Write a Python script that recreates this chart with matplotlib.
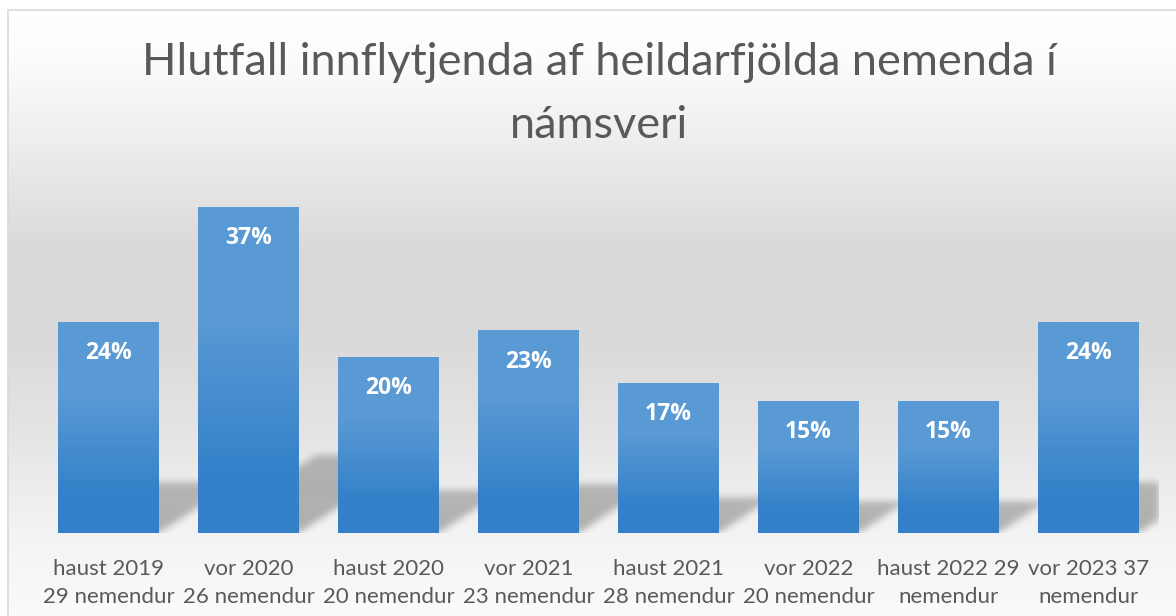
import numpy as np
import matplotlib
matplotlib.use('Agg')
import matplotlib.pyplot as plt
from matplotlib.colors import LinearSegmentedColormap
from matplotlib.patches import Rectangle

# Datos del gráfico
categorias = ['haust 2019\n29 nemendur', 'vor 2020\n26 nemendur', 'haust 2020\n20 nemendur',
              'vor 2021\n23 nemendur', 'haust 2021\n28 nemendur', 'vor 2022\n20 nemendur',
              'haust 2022 29\nnemendur', 'vor 2023 37\nnemendur']
hlutfall = [24, 37, 20, 23, 17, 15, 15, 24]
titill = 'Hlutfall innflytjenda af heildarfjölda nemenda í\nnámsveri'

W, H = 1176, 616
plt.rcParams['font.family'] = ['Lato', 'DejaVu Sans']
fig = plt.figure(figsize=(W / 100, H / 100), dpi=100)
fig.patch.set_facecolor('white')

# Fondo con degradado (estilo Excel)
bg = fig.add_axes([8 / W, 0, 1 - 8 / W, (H - 10) / H], zorder=0)
bg_stops = [(0.0, '#ffffff'), (0.08, '#fcfcfc'), (0.23, '#ececec'), (0.40, '#d9d9d9'),
            (0.53, '#d9d9d9'), (0.68, '#e3e3e3'), (0.86, '#f3f3f3'), (1.0, '#fafafa')]
bg_cmap = LinearSegmentedColormap.from_list('bg', bg_stops)
bg.imshow(np.linspace(0, 1, 300).reshape(-1, 1), cmap=bg_cmap, aspect='auto',
          extent=[0, 1, 1, 0], vmin=0, vmax=1)
bg.set_xlim(0, 1)
bg.set_ylim(1, 0)
bg.axis('off')
fig.patches.append(Rectangle((8 / W, -0.1), 1.2, (H - 10) / H + 0.1, transform=fig.transFigure,
                             fill=False, edgecolor='#d9d9d9', linewidth=1.2, zorder=1))

# Área del gráfico
ax = fig.add_axes([38.5 / W, 83 / H, 1120 / W, 352.4 / H], zorder=2)
ax.patch.set_alpha(0)
x = np.arange(len(hlutfall))
ax.set_xlim(-0.5, len(hlutfall) - 0.5)
ax.set_ylim(0, 40)
ancho = 0.72

# Sombras en perspectiva (borrosas)
gx = np.linspace(-0.5, len(hlutfall) - 0.5, 1120)
gy = np.linspace(-0.6, 12, 111)
X, Y = np.meshgrid(gx, gy)
mask = np.zeros_like(X)
for xi, v in zip(x, hlutfall):
    sh = 0.24 * v
    t = np.clip(Y / sh, 0, None)
    left = xi - ancho / 2 + 0.0227 * v * t
    inside = (Y >= 0) & (Y <= sh) & (X >= left) & (X <= left + ancho)
    mask = np.maximum(mask, inside * (1 - 0.15 * t))
k = np.exp(-0.5 * (np.arange(-12, 13) / 3.5) ** 2)
k /= k.sum()
mask = np.apply_along_axis(lambda r: np.convolve(r, k, mode='same'), 1, mask)
mask = np.apply_along_axis(lambda c: np.convolve(c, k, mode='same'), 0, mask)
rgba = np.zeros(mask.shape + (4,))
rgba[..., 3] = 0.28 * mask
ax.imshow(rgba, extent=[gx[0], gx[-1], gy[0], gy[-1]], origin='lower', aspect='auto',
          zorder=1, interpolation='bilinear')

# Barras con degradado
bar_cmap = LinearSegmentedColormap.from_list(
    'barra', [(0.0, '#3380c9'), (0.2, '#3582ca'), (0.65, '#5999d4'), (1.0, '#5b9bd5')])
bars = ax.bar(x, hlutfall, width=ancho, color='none', zorder=2)
for b in bars:
    x0, y0 = b.get_x(), b.get_y()
    im = ax.imshow(np.linspace(0, 1, 200).reshape(-1, 1), cmap=bar_cmap, origin='lower',
                   extent=[x0, x0 + b.get_width(), y0, y0 + b.get_height()],
                   aspect='auto', zorder=3)
    im.set_clip_path(b)

for xi, v in zip(x, hlutfall):
    ax.annotate(f'{v}%', (xi, v), xytext=(0, -22.5), textcoords='offset points',
                ha='center', va='center', color='white', fontsize=16.5, fontweight='bold',
                family=['Open Sans', 'DejaVu Sans'], zorder=4)

ax.set_xlim(-0.5, len(hlutfall) - 0.5)
ax.set_ylim(0, 40)
ax.set_xticks(x)
ax.set_xticklabels(categorias, fontsize=16, color='#595959', linespacing=1.55)
ax.tick_params(axis='x', length=0, pad=18.5)
ax.set_yticks([])
for s in ax.spines.values():
    s.set_visible(False)

fig.text(599 / W, 1 - 94 / H, titill, ha='center', va='center', fontsize=32.5,
         color='#595959', linespacing=1.65)

fig.savefig('out.png', dpi=100)
